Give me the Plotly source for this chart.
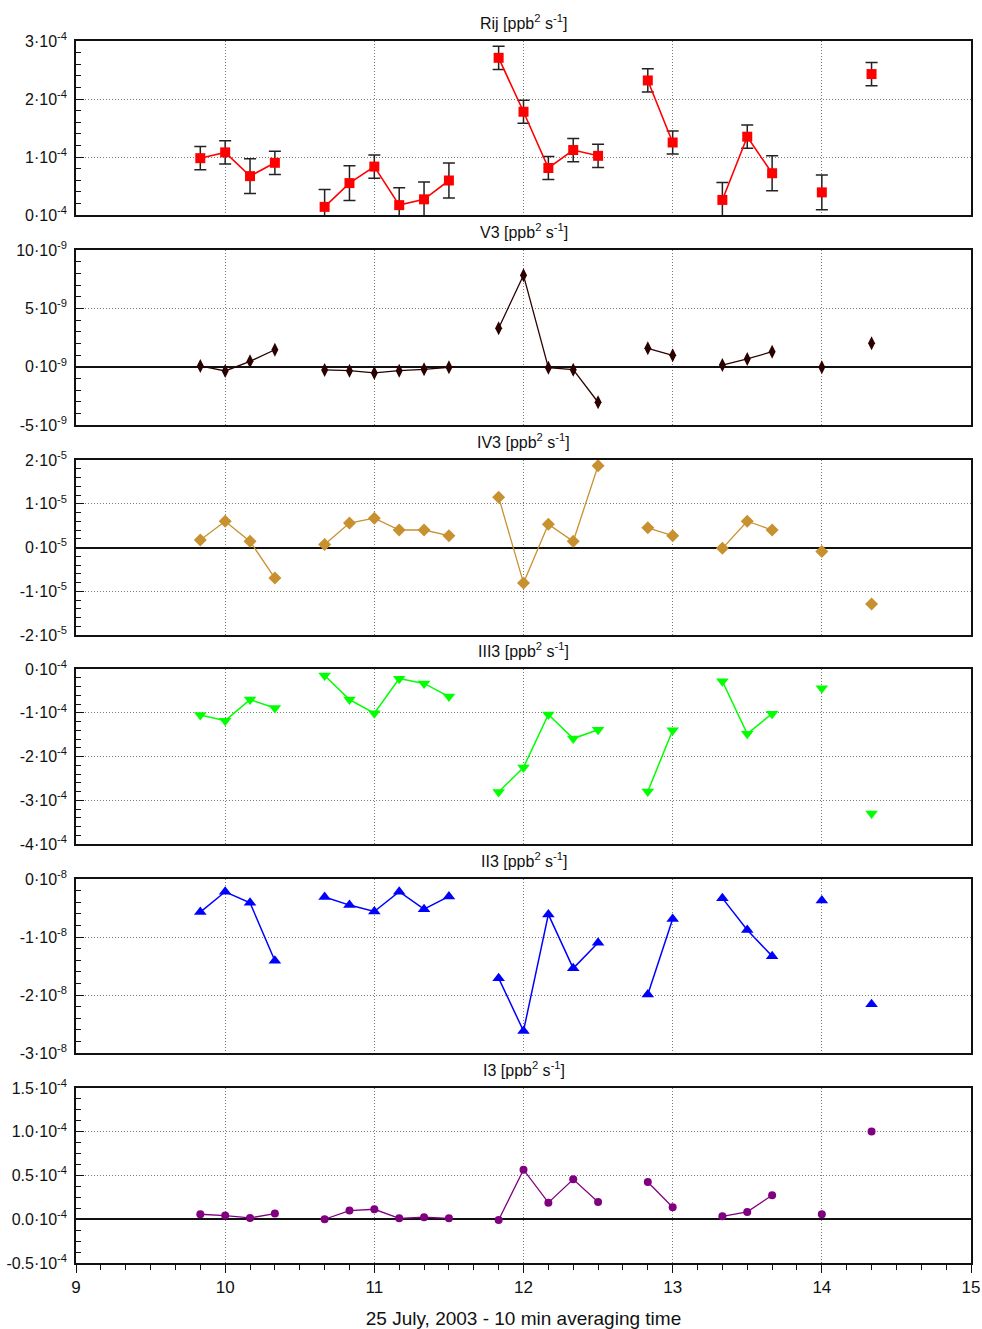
import plotly.graph_objects as go

# ---------------- data ----------------
# time of day (hours, 10-min steps); None values mark missing intervals (line breaks)
times = [9.8333, 10.0, 10.1667, 10.3333, 10.5, 10.6667, 10.8333, 11.0, 11.1667, 11.3333,
         11.5, 11.6667, 11.8333, 12.0, 12.1667, 12.3333, 12.5, 12.6667, 12.8333, 13.0,
         13.1667, 13.3333, 13.5, 13.6667, 13.8333, 14.0, 14.1667, 14.3333]

rij = [0.98e-4, 1.08e-4, 0.67e-4, 0.90e-4, None, 0.14e-4, 0.55e-4, 0.835e-4, 0.17e-4, 0.27e-4,
       0.595e-4, None, 2.71e-4, 1.78e-4, 0.81e-4, 1.12e-4, 1.02e-4, None, 2.32e-4, 1.25e-4,
       None, 0.26e-4, 1.35e-4, 0.72e-4, None, 0.39e-4, None, 2.43e-4]
rij_err = [0.2e-4, 0.2e-4, 0.3e-4, 0.2e-4, None, 0.3e-4, 0.3e-4, 0.2e-4, 0.3e-4, 0.3e-4,
           0.3e-4, None, 0.2e-4, 0.2e-4, 0.2e-4, 0.2e-4, 0.2e-4, None, 0.2e-4, 0.2e-4,
           None, 0.3e-4, 0.2e-4, 0.3e-4, None, 0.3e-4, None, 0.2e-4]
v3 = [0.06e-9, -0.37e-9, 0.46e-9, 1.45e-9, None, -0.28e-9, -0.34e-9, -0.54e-9, -0.34e-9, -0.23e-9,
      -0.05e-9, None, 3.3e-9, 7.83e-9, -0.09e-9, -0.26e-9, -3.05e-9, None, 1.57e-9, 0.97e-9,
      None, 0.14e-9, 0.66e-9, 1.28e-9, None, -0.06e-9, None, 2.0e-9]
iv3 = [0.17e-5, 0.60e-5, 0.14e-5, -0.70e-5, None, 0.07e-5, 0.56e-5, 0.67e-5, 0.40e-5, 0.40e-5,
       0.27e-5, None, 1.15e-5, -0.81e-5, 0.53e-5, 0.14e-5, 1.87e-5, None, 0.45e-5, 0.27e-5,
       None, -0.02e-5, 0.60e-5, 0.40e-5, None, -0.09e-5, None, -1.29e-5]
iii3 = [-1.05e-4, -1.18e-4, -0.70e-4, -0.89e-4, None, -0.15e-4, -0.70e-4, -1.01e-4, -0.22e-4, -0.33e-4,
        -0.63e-4, None, -2.81e-4, -2.25e-4, -1.04e-4, -1.59e-4, -1.39e-4, None, -2.80e-4, -1.40e-4,
        None, -0.28e-4, -1.48e-4, -1.02e-4, None, -0.44e-4, None, -3.30e-4]
ii3 = [-0.57e-8, -0.22e-8, -0.41e-8, -1.41e-8, None, -0.31e-8, -0.45e-8, -0.56e-8, -0.22e-8, -0.52e-8,
       -0.30e-8, None, -1.71e-8, -2.62e-8, -0.61e-8, -1.54e-8, -1.10e-8, None, -1.99e-8, -0.69e-8,
       None, -0.33e-8, -0.88e-8, -1.33e-8, None, -0.37e-8, None, -2.16e-8]
i3 = [0.057e-4, 0.042e-4, 0.015e-4, 0.065e-4, None, 0.0, 0.099e-4, 0.114e-4, 0.011e-4, 0.023e-4,
      0.011e-4, None, -0.008e-4, 0.566e-4, 0.19e-4, 0.456e-4, 0.198e-4, None, 0.426e-4, 0.137e-4,
      None, 0.034e-4, 0.084e-4, 0.274e-4, None, 0.057e-4, None, 1.003e-4]

panel_titles = ["Rij [ppb<sup>2</sup> s<sup>-1</sup>]", "V3 [ppb<sup>2</sup> s<sup>-1</sup>]",
                "IV3 [ppb<sup>2</sup> s<sup>-1</sup>]", "III3 [ppb<sup>2</sup> s<sup>-1</sup>]",
                "II3 [ppb<sup>2</sup> s<sup>-1</sup>]", "I3 [ppb<sup>2</sup> s<sup>-1</sup>]"]

y_tickvals = [
    [0, 1e-4, 2e-4, 3e-4],
    [-5e-9, 0, 5e-9, 10e-9],
    [-2e-5, -1e-5, 0, 1e-5, 2e-5],
    [-4e-4, -3e-4, -2e-4, -1e-4, 0],
    [-3e-8, -2e-8, -1e-8, 0],
    [-0.5e-4, 0, 0.5e-4, 1.0e-4, 1.5e-4],
]
y_ticktext = [
    ["0·10<sup>-4</sup>", "1·10<sup>-4</sup>", "2·10<sup>-4</sup>", "3·10<sup>-4</sup>"],
    ["-5·10<sup>-9</sup>", "0·10<sup>-9</sup>", "5·10<sup>-9</sup>", "10·10<sup>-9</sup>"],
    ["-2·10<sup>-5</sup>", "-1·10<sup>-5</sup>", "0·10<sup>-5</sup>", "1·10<sup>-5</sup>", "2·10<sup>-5</sup>"],
    ["-4·10<sup>-4</sup>", "-3·10<sup>-4</sup>", "-2·10<sup>-4</sup>", "-1·10<sup>-4</sup>", "0·10<sup>-4</sup>"],
    ["-3·10<sup>-8</sup>", "-2·10<sup>-8</sup>", "-1·10<sup>-8</sup>", "0·10<sup>-8</sup>"],
    ["-0.5·10<sup>-4</sup>", "0.0·10<sup>-4</sup>", "0.5·10<sup>-4</sup>", "1.0·10<sup>-4</sup>", "1.5·10<sup>-4</sup>"],
]
x_tickvals = [9, 10, 11, 12, 13, 14, 15]
x_title = "25 July, 2003 - 10 min averaging time"

# ---------------- styling / layout ----------------
y_ranges = [[0, 3e-4], [-5e-9, 10e-9], [-2e-5, 2e-5], [-4e-4, 0], [-3e-8, 0], [-0.5e-4, 1.5e-4]]
y_minor = [0.2e-4, 1e-9, 0.2e-5, 0.2e-4, 0.2e-8, 0.125e-4]
W, H = 982, 1329
ML, MR, MT, MB = 76, 11, 41, 66
panel_px = [(41, 215), (250, 425), (460, 635), (669, 844), (879, 1053), (1088, 1263)]
plot_h = H - MT - MB

series = [rij, v3, iv3, iii3, ii3, i3]
styles = [
    dict(color="#FF0000", symbol="square", size=10, lw=1.6),
    dict(color="#2B0000", symbol="diamond-tall", size=10, lw=1.3),
    dict(color="#C8912F", symbol="diamond", size=10, lw=1.3),
    dict(color="#00FF00", symbol="triangle-down", size=11, lw=1.5),
    dict(color="#0000FF", symbol="triangle-up", size=11, lw=1.5),
    dict(color="#800080", symbol="circle", size=8, lw=1.3),
]

fig = go.Figure()
FONT = "Liberation Sans, Arial, sans-serif"
GRID = dict(showgrid=True, gridcolor="#7a7a7a", griddash="1px,2px", gridwidth=1)

for i in range(6):
    k = "" if i == 0 else str(i + 1)
    st = styles[i]
    tr = dict(
        x=times, y=series[i], mode="lines+markers",
        line=dict(color=st["color"], width=st["lw"]),
        marker=dict(symbol=st["symbol"], size=st["size"], color=st["color"], line=dict(width=0)),
        xaxis="x" + k, yaxis="y" + k, showlegend=False, connectgaps=False,
    )
    if i == 0:
        tr["error_y"] = dict(type="data", array=rij_err, visible=True, color="#222222",
                             thickness=1.5, width=6)
    fig.add_trace(go.Scatter(**tr))

    top, bot = panel_px[i]
    dom = [(H - MB - bot) / plot_h, (H - MB - top) / plot_h]
    last = (i == 5)
    xa = dict(
        domain=[0, 1], range=[9, 15], anchor="y" + k, automargin=False,
        tickmode="array", tickvals=x_tickvals,
        showline=True, mirror=True, linecolor="#111111", linewidth=1.5,
        zeroline=False,
        showticklabels=last,
        ticks="outside" if last else "",
        ticklen=8, tickwidth=1.3, tickcolor="#111111",
        tickfont=dict(family=FONT, size=17, color="#111111"),
        **GRID,
    )
    if last:
        xa["minor"] = dict(tickmode="linear", tick0=9, dtick=1 / 6, ticks="outside",
                           ticklen=5, tickwidth=1.2, tickcolor="#111111", showgrid=False)
        xa["title"] = dict(text=x_title, font=dict(family=FONT, size=19, color="#111111"),
                           standoff=17)
    else:
        xa["matches"] = "x6"
    ya = dict(
        domain=dom, range=y_ranges[i], anchor="x" + k, automargin=False,
        tickmode="array", tickvals=y_tickvals[i], ticktext=y_ticktext[i],
        showline=True, mirror=True, linecolor="#111111", linewidth=1.5,
        zeroline=True, zerolinecolor="#111111", zerolinewidth=1.5,
        ticks="inside", ticklen=8, tickwidth=1.3, tickcolor="#111111",
        ticklabelstandoff=4,
        tickfont=dict(family=FONT, size=16, color="#111111"),
        minor=dict(tickmode="linear", tick0=0, dtick=y_minor[i], ticks="inside",
                   ticklen=5, tickwidth=1.2, tickcolor="#111111", showgrid=False),
        **GRID,
    )
    fig.layout["xaxis" + k] = xa
    fig.layout["yaxis" + k] = ya

    fig.add_annotation(
        text=panel_titles[i], x=0.5, xref="paper", y=dom[1], yref="paper",
        xanchor="center", yanchor="bottom", yshift=7, showarrow=False,
        font=dict(family=FONT, size=16, color="#111111"),
    )

fig.update_layout(
    width=W, height=H,
    margin=dict(l=ML, r=MR, t=MT, b=MB, pad=0, autoexpand=False),
    paper_bgcolor="white", plot_bgcolor="white",
    font=dict(family=FONT, color="#111111"),
)

fig.write_html("out.html")
